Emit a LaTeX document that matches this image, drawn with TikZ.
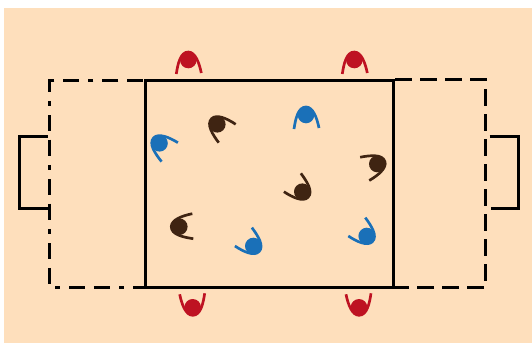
\documentclass[tikz,border=0pt]{standalone}
\definecolor{sand}{HTML}{FEDFBC}
\definecolor{pred}{HTML}{BE1222}
\definecolor{pblue}{HTML}{1A70B8}
\definecolor{pbrown}{HTML}{3F2412}
\tikzset{
  x=0.75pt,y=-0.75pt,
  court/.style={draw=black,line width=2.2pt,line join=miter},
  goalbox/.style={draw=black,line width=2.1pt,line join=miter},
  dashline/.style={court,dash pattern=on 12.5pt off 6.25pt},
  dotline/.style={court,dash pattern=on 12pt off 6.4pt on 12pt off 6.9pt on 3.75pt off 7pt},
  player/.pic={
    \fill[#1] (0,0) circle[radius=8.3];
    \draw[#1,line width=2pt] (-12,14) .. controls (-10.5,4) and (-8,-8) .. (0,-8)
      .. controls (7,-8) and (11,3) .. (13,13);
  }
}
\begin{document}
\begin{tikzpicture}
\useasboundingbox (0,0) rectangle (532,343);
\fill[sand] (4,8) rectangle (532,343);
% goals
\draw[goalbox] (47.5,136.5) -- (19.5,136.5) -- (19.5,208.5) -- (48,208.5);
\draw[goalbox] (489.5,136.5) -- (518.5,136.5) -- (518.5,208.5) -- (490.5,208.5);
% end zones
\draw[dotline] (143,80.5) -- (49.5,80.5) -- (49.5,287.5) -- (145,287.5);
\draw[dashline] (395,79.5) -- (485.5,79.5) -- (485.5,287.5) -- (394,287.5);
% court
\draw[court] (145.5,80.5) rectangle (393.5,287.5);
% players
\pic (r1) at (188.3,60) {player=pred};
\pic (r2) at (354.3,60) {player=pred};
\pic[rotate=180] (r3) at (192.7,307.3) {player=pred};
\pic[rotate=180] (r4) at (359,307.3) {player=pred};
\pic (b1) at (306,115) {player=pblue};
\pic[rotate=47] (b2) at (159.5,143.3) {player=pblue};
\pic[rotate=-135] (b3) at (253.3,246) {player=pblue};
\pic[rotate=-135] (b4) at (366.7,236) {player=pblue};
\pic[rotate=45] (k1) at (217.3,124.3) {player=pbrown};
\pic[rotate=-71] (k2) at (377.3,164) {player=pbrown};
\pic[rotate=-135] (k3) at (302.3,191.7) {player=pbrown};
\pic[rotate=90] (k4) at (179.3,226.7) {player=pbrown};
\end{tikzpicture}
\end{document}
